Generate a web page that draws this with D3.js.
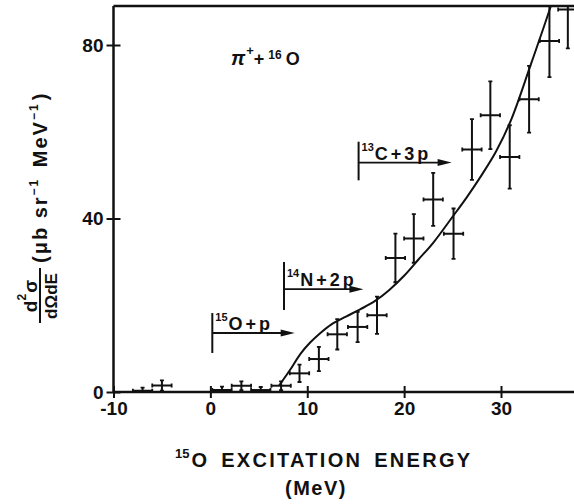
<!DOCTYPE html>
<html>
<head>
<meta charset="utf-8">
<script src="https://cdn.jsdelivr.net/npm/d3@7"></script>
<style>
  body { margin: 0; background: #fff; }
  svg { display: block; }
  text { font-family: "Liberation Sans", Arial, sans-serif; font-weight: bold; fill: #111; }
</style>
</head>
<body>
<div id="chart"></div>
<script>
// Measured points: 15O excitation energy (MeV) vs cross section
const energy = [-7, -5, 1.2, 3.2, 5.2, 7.3, 9.2, 11.2, 13.1, 15.2, 17.2, 19.1, 21, 23, 25.1, 27, 28.9, 30.9, 32.9, 35, 36.9];
const sigma  = [0.3, 1.5, 0.45, 1.45, 0.45, 1.45, 4.3, 7.6, 13.3, 15.0, 17.7, 30.9, 35.4, 44.4, 36.5, 55.9, 63.8, 54.2, 67.5, 80.9, 88.2];
const sigmaErr = [0.7, 1.2, 0.8, 1.0, 0.7, 1.0, 2.0, 2.8, 3.5, 3.5, 4.3, 5.6, 5.6, 6.1, 5.8, 7.0, 7.8, 7.3, 7.7, 8.3, 9.0];
const energyErr = 1; // 2 MeV bins

// Calculated curve
const curveE = [7.1, 8.2, 9.3, 10.3, 11.3, 12.5, 14.0, 15.5, 17.0, 18.5, 20.0, 21.5, 23.0, 25.0, 26.5, 28.0, 29.5, 31.0, 33.0, 35.0, 36.0];
const curveV = [1.5, 5.0, 8.8, 11.4, 13.5, 15.6, 17.4, 19.1, 21.0, 23.6, 26.8, 30.6, 34.4, 40.4, 45.0, 50.0, 55.5, 62.5, 75.0, 88.0, 95.0];

// Breakup thresholds
const thrNucleus = ['15', '14', '13'];
const thrLabel   = ['O+p', 'N+2p', 'C+3p'];
const thrE       = [0.2, 7.6, 15.3];
const thrLow     = [9.0, 18.9, 48.8];
const thrHigh    = [18.2, 30.0, 57.7];
const thrArrowY  = [13.6, 23.7, 52.9];
const thrArrowTo = [8.7, 15.8, 24.9];

const xTicks = [-10, 0, 10, 20, 30];
const yTicks = [0, 40, 80];

const width = 574, height = 504;

const x = d3.scaleLinear().domain([-10, 30]).range([113.5, 501]);
const y = d3.scaleLinear().domain([0, 80]).range([392, 45]);
const xMax = x.invert(width);
const yMax = 89;

const svg = d3.select('#chart').append('svg')
  .attr('width', width)
  .attr('height', height);

svg.append('defs').append('clipPath')
  .attr('id', 'plot-clip')
  .append('rect')
  .attr('x', x(-10))
  .attr('y', y(yMax))
  .attr('width', width - x(-10))
  .attr('height', y(0) - y(yMax) + 10);

// Frame
svg.append('line')
  .attr('x1', x(-10)).attr('x2', width)
  .attr('y1', y(yMax)).attr('y2', y(yMax))
  .attr('stroke', '#111').attr('stroke-width', 2.5);

// Axes
const xAxis = svg.append('g')
  .attr('transform', `translate(0,${y(0)})`)
  .call(d3.axisBottom(x).tickValues(xTicks).tickSize(6).tickPadding(4)
    .tickFormat(d => d < 0 ? '-' + Math.abs(d) : d));
xAxis.select('.domain').attr('d', `M${x(-10)},0H${width}`).attr('stroke-width', 2.5).attr('stroke', '#111');
xAxis.selectAll('.tick line').attr('y1', -6).attr('stroke-width', 2).attr('stroke', '#111');
xAxis.selectAll('.tick text').style('font-size', '19px').attr('fill', '#111');

const yAxis = svg.append('g')
  .attr('transform', `translate(${x(-10)},0)`)
  .call(d3.axisLeft(y).tickValues(yTicks).tickSize(7).tickPadding(3));
yAxis.select('.domain').attr('d', `M0,${y(0)}V${y(yMax)}`).attr('stroke-width', 2.5).attr('stroke', '#111');
yAxis.selectAll('.tick line').attr('x1', 7).attr('stroke-width', 2).attr('stroke', '#111');
yAxis.selectAll('.tick text').style('font-size', '19px').attr('fill', '#111');

const plot = svg.append('g').attr('clip-path', 'url(#plot-clip)');

// Curve
plot.append('path')
  .datum(curveE.map((e, i) => [e, curveV[i]]))
  .attr('fill', 'none')
  .attr('stroke', '#111')
  .attr('stroke-width', 2)
  .attr('d', d3.line().x(d => x(d[0])).y(d => y(d[1])).curve(d3.curveCatmullRom.alpha(0.5)));

// Error bars
const pts = energy.map((e, i) => ({ e, v: sigma[i], err: sigmaErr[i] }));
const cap = 2;
const bars = plot.selectAll('.pt').data(pts).join('g').attr('class', 'pt')
  .attr('stroke', '#111').attr('stroke-width', 2);
bars.append('line')
  .attr('x1', d => x(d.e)).attr('x2', d => x(d.e))
  .attr('y1', d => y(Math.max(0, d.v - d.err))).attr('y2', d => y(d.v + d.err));
bars.append('line')
  .attr('x1', d => x(d.e - energyErr)).attr('x2', d => x(d.e + energyErr))
  .attr('y1', d => y(d.v)).attr('y2', d => y(d.v));
bars.append('path')
  .attr('stroke-width', 1.8)
  .attr('d', d => `M${x(d.e) - cap},${y(d.v + d.err)}h${2 * cap}` +
    (d.v - d.err > 0 ? `M${x(d.e) - cap},${y(d.v - d.err)}h${2 * cap}` : '') +
    `M${x(d.e - energyErr)},${y(d.v) - cap}v${2 * cap}` +
    `M${x(d.e + energyErr)},${y(d.v) - cap}v${2 * cap}`);

// Threshold markers
thrE.forEach((e, i) => {
  const g = svg.append('g');
  g.append('line')
    .attr('x1', x(e)).attr('x2', x(e))
    .attr('y1', y(thrLow[i])).attr('y2', y(thrHigh[i]))
    .attr('stroke', '#111').attr('stroke-width', 2);
  const ay = y(thrArrowY[i]);
  const ax = x(thrArrowTo[i]);
  g.append('line')
    .attr('x1', x(e)).attr('x2', ax - 8)
    .attr('y1', ay).attr('y2', ay)
    .attr('stroke', '#111').attr('stroke-width', 1.8);
  g.append('path')
    .attr('d', `M${ax},${ay}L${ax - 14},${ay - 3.5}L${ax - 14},${ay + 3.5}Z`)
    .attr('fill', '#111');
  const t = g.append('text')
    .attr('x', x(e) + 3)
    .attr('y', ay - 3)
    .style('font-size', '18px')
    .style('letter-spacing', '3px');
  t.append('tspan').text(thrNucleus[i]).style('font-size', '11px').style('letter-spacing', '0px').attr('dy', -9);
  t.append('tspan').text(thrLabel[i]).attr('dy', 9).attr('dx', 1);
});

// Reaction label
const rx = svg.append('text')
  .attr('x', 231)
  .attr('y', 65)
  .style('font-size', '18px');
rx.append('tspan').text('π').style('font-style', 'italic').style('font-size', '20px');
rx.append('tspan').text('+').style('font-size', '13px').attr('dy', -10).attr('dx', 1);
rx.append('tspan').text('+').attr('dy', 10);
rx.append('tspan').text('16').style('font-size', '12px').attr('dy', -6).attr('dx', 4);
rx.append('tspan').text('O').attr('dy', 6).attr('dx', 4);

// X axis title
const xt = svg.append('text')
  .attr('x', 175)
  .attr('y', 467)
  .style('font-size', '20px')
  .style('letter-spacing', '2.3px')
  .style('word-spacing', '4px');
xt.append('tspan').text('15').style('font-size', '13px').style('letter-spacing', '0px').attr('dy', -9);
xt.append('tspan').text('O EXCITATION ENERGY').attr('dy', 9).attr('dx', 2);

svg.append('text')
  .attr('x', 316)
  .attr('y', 495)
  .attr('text-anchor', 'middle')
  .style('font-size', '20px')
  .style('letter-spacing', '1.5px')
  .text('(MeV)');

// Y axis title (rotated)
const yl = svg.append('g').attr('transform', 'translate(40,325) rotate(-90)');
const num = yl.append('text').attr('x', 29).attr('y', -3).attr('text-anchor', 'middle').style('font-size', '19px');
num.append('tspan').text('d');
num.append('tspan').text('2').style('font-size', '12px').attr('dy', -11);
num.append('tspan').text('σ').attr('dy', 11).attr('dx', 1);
yl.append('line').attr('x1', 2).attr('x2', 57).attr('y1', 0).attr('y2', 0)
  .attr('stroke', '#111').attr('stroke-width', 2);
yl.append('text').attr('x', 29).attr('y', 17).attr('text-anchor', 'middle').style('font-size', '17px').text('dΩdE');
const unit = yl.append('text').attr('x', 62).attr('y', 7).style('font-size', '20px').style('letter-spacing', '2px');
unit.append('tspan').text('(μb sr');
unit.append('tspan').text('−1').style('font-size', '12px').attr('dy', -9);
unit.append('tspan').text(' MeV').attr('dy', 9).attr('dx', 3);
unit.append('tspan').text('−1').style('font-size', '12px').attr('dy', -9);
unit.append('tspan').text(')').attr('dy', 9).attr('dx', 2);
</script>
</body>
</html>
